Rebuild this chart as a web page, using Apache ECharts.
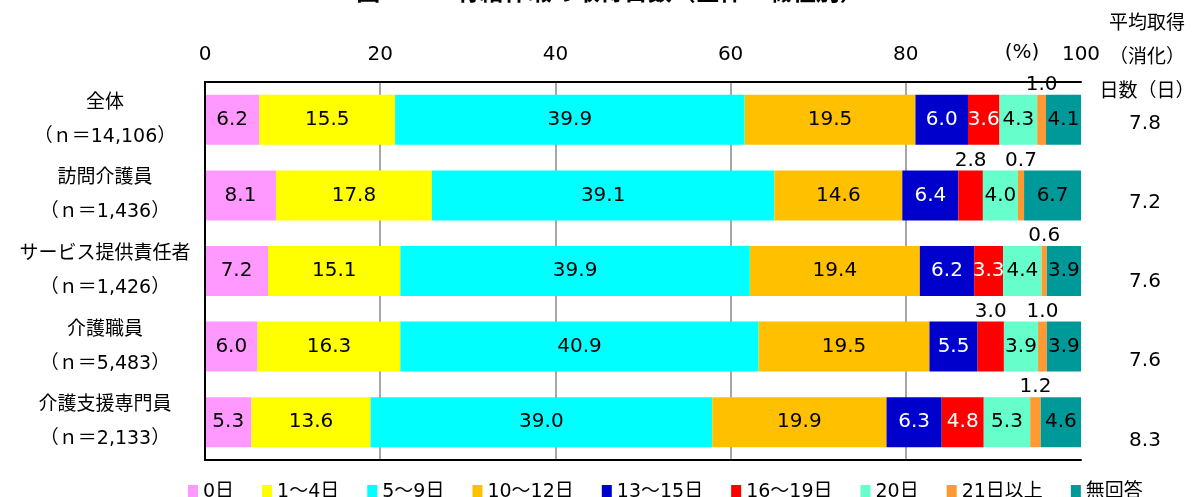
<!DOCTYPE html>
<html>
<head>
<meta charset="utf-8">
<script src="https://cdn.jsdelivr.net/npm/echarts@6/dist/echarts.min.js"></script>
<style>
  html, body { margin: 0; padding: 0; background: #fff; }
  #chart { width: 1193px; height: 497px; }
</style>
</head>
<body>
<div id="chart"></div>
<script>
// 職種（縦軸の項目）
const categories = [
  '全体\n（ｎ＝14,106）',
  '訪問介護員\n（ｎ＝1,436）',
  'サービス提供責任者\n（ｎ＝1,426）',
  '介護職員\n（ｎ＝5,483）',
  '介護支援専門員\n（ｎ＝2,133）'
]
// 凡例名
const seriesNames = ['0日', '1～4日', '5～9日', '10～12日', '13～15日', '16～19日', '20日', '21日以上', '無回答']
// 各区分の割合（%）
const day0 = [6.2, 8.1, 7.2, 6.0, 5.3]
const day1to4 = [15.5, 17.8, 15.1, 16.3, 13.6]
const day5to9 = [39.9, 39.1, 39.9, 40.9, 39.0]
const day10to12 = [19.5, 14.6, 19.4, 19.5, 19.9]
const day13to15 = [6.0, 6.4, 6.2, 5.5, 6.3]
const day16to19 = [3.6, 2.8, 3.3, 3.0, 4.8]
const day20 = [4.3, 4.0, 4.4, 3.9, 5.3]
const day21plus = [1.0, 0.7, 0.6, 1.0, 1.2]
const noAnswer = [4.1, 6.7, 3.9, 3.9, 4.6]
// 平均取得（消化）日数
const avgDays = [7.8, 7.2, 7.6, 7.6, 8.3]

const seriesValues = [day0, day1to4, day5to9, day10to12, day13to15, day16to19, day20, day21plus, noAnswer]
const colors = ['#ff99ff', '#ffff00', '#00ffff', '#ffc000', '#0000cc', '#ff0000', '#66ffcc', '#ff9933', '#009999']
// 青・赤の帯は白文字
const labelColors = ['#000', '#000', '#000', '#000', '#fff', '#fff', '#000', '#000', '#000']

const FONT = '"DejaVu Sans", "Noto Sans CJK JP", sans-serif'

// 細い帯は数値を帯の上に出す
function makeData(values) {
  return values.map(v => v < 3.2
    ? { value: v, label: { position: 'top', distance: 0, color: '#000' } }
    : v)
}

const series = seriesValues.map((values, i) => ({
  name: seriesNames[i],
  type: 'bar',
  stack: 'total',
  barWidth: 50,
  xAxisIndex: 0,
  yAxisIndex: 0,
  itemStyle: { color: colors[i] },
  label: {
    show: true,
    position: 'inside',
    color: labelColors[i],
    fontSize: 20,
    fontFamily: FONT,
    formatter: p => p.value.toFixed(1)
  },
  data: makeData(values)
}))

const option = {
  animation: false,
  textStyle: { fontFamily: FONT },
  color: colors,
  grid: [
    { left: 205, right: 112, top: 82, height: 378 },
    { left: 1145, width: 1, top: 84, height: 396 }
  ],
  legend: {
    data: seriesNames,
    left: 183,
    top: 478,
    icon: 'rect',
    itemWidth: 10,
    itemHeight: 15,
    itemGap: 28,
    textStyle: { fontSize: 19, color: '#000', fontFamily: FONT }
  },
  xAxis: [
    {
      type: 'value',
      gridIndex: 0,
      position: 'top',
      min: 0,
      max: 100,
      interval: 20,
      axisLine: { show: true, lineStyle: { color: '#000', width: 2 } },
      axisTick: { show: false },
      axisLabel: { fontSize: 20, color: '#000', margin: 17 },
      splitLine: { show: true, showMinLine: false, showMaxLine: false, lineStyle: { color: '#a6a6a6', width: 2 } }
    },
    {
      type: 'value',
      gridIndex: 0,
      position: 'bottom',
      min: 0,
      max: 100,
      z: 3,
      axisLine: { show: true, lineStyle: { color: '#000', width: 2 } },
      axisTick: { show: false },
      axisLabel: { show: false },
      splitLine: { show: false }
    },
    { type: 'value', gridIndex: 1, show: false }
  ],
  yAxis: [
    {
      type: 'category',
      gridIndex: 0,
      inverse: true,
      data: categories,
      z: 3,
      axisLine: { show: true, lineStyle: { color: '#000', width: 2 } },
      axisTick: { show: false },
      axisLabel: {
        interval: 0,
        fontSize: 19,
        lineHeight: 34,
        color: '#000',
        align: 'center',
        margin: 100
      }
    },
    {
      type: 'category',
      gridIndex: 0,
      position: 'right',
      inverse: true,
      data: categories,
      z: 3,
      axisLine: { show: true, lineStyle: { color: '#000', width: 2 } },
      axisTick: { show: false },
      axisLabel: { show: false }
    },
    {
      type: 'category',
      gridIndex: 1,
      inverse: true,
      data: avgDays.map(v => v.toFixed(1)),
      axisLine: { show: false },
      axisTick: { show: false },
      axisLabel: { interval: 0, fontSize: 20, color: '#000', align: 'center', margin: 0 }
    }
  ],
  graphic: [
    {
      type: 'text',
      x: 610,
      y: -6,
      style: {
        text: '図 2-7　有給休暇の取得日数（全体・職種別）',
        align: 'center',
        verticalAlign: 'middle',
        font: 'bold 24px ' + FONT,
        fill: '#000'
      }
    },
    {
      type: 'text',
      x: 1022,
      y: 53,
      style: {
        text: '(%)',
        align: 'center',
        verticalAlign: 'middle',
        font: '20px ' + FONT,
        fill: '#000'
      }
    },
    {
      type: 'text',
      x: 1147,
      y: 58,
      style: {
        text: '平均取得\n（消化）\n日数（日）',
        align: 'center',
        verticalAlign: 'middle',
        lineHeight: 34,
        font: '19px ' + FONT,
        fill: '#000'
      }
    }
  ],
  series: series
}

const myChart = echarts.init(document.getElementById('chart'))
myChart.setOption(option)
</script>
</body>
</html>
